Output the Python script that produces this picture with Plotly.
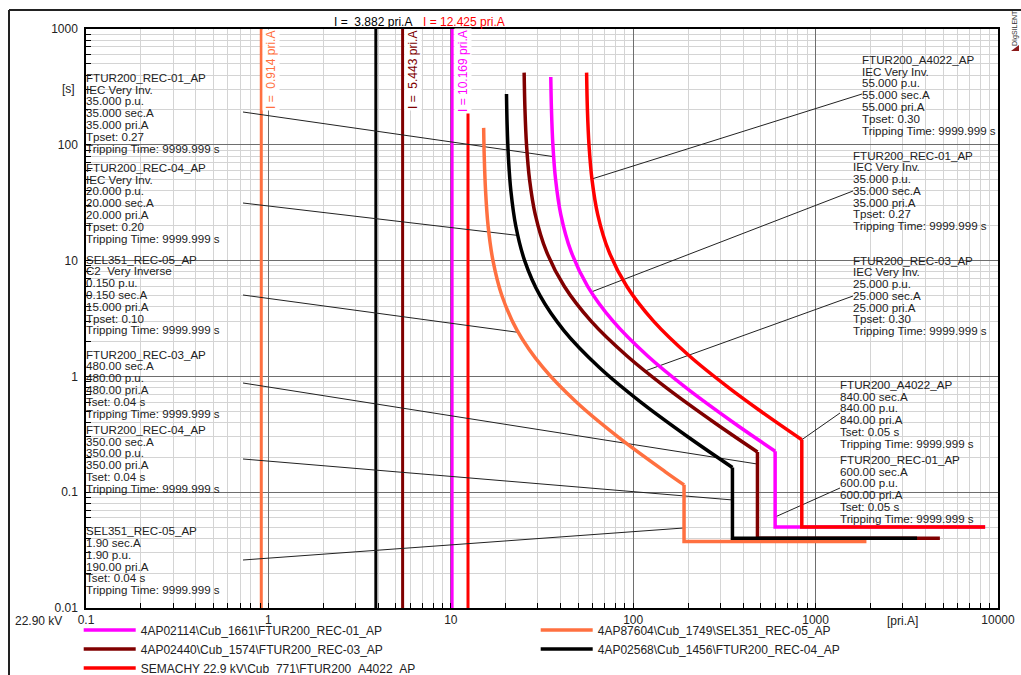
import plotly.graph_objects as go

FONT = "Liberation Sans, Arial, sans-serif"
W, H = 1021, 675
ML, MR, MT, MB = 86, 23, 29, 67
PW, PH = W - ML - MR, H - MT - MB

MAGENTA, CORAL, DARKRED, BLACK, RED = "#FF00FF", "#FF7040", "#800000", "#000000", "#FF0000"

# ---------------- data ----------------
X_TICKS = [0.1, 1, 10, 100, 1000, 10000]
X_TICKTEXT = ["0.1", "1", "10", "100", "1000", "10000"]
Y_TICKS = [0.01, 0.1, 1, 10, 100, 1000]
Y_TICKTEXT = ["0.01", "0.1", "1", "10", "100", "1000"]

# fault-current marker lines [pri.A]
I_LINES = [0.914, 3.882, 5.443, 10.169, 12.425]
I_LINE_COLORS = [CORAL, BLACK, DARKRED, MAGENTA, RED]

# inverse-time parts (current [pri.A], time [s])
REC01_I = [35.33, 35.64, 36.28, 37.55, 40.10, 45.63, 56.26, 77.53, 120.05, 194.5, 353.9, 600]
REC01_T = [385, 200, 100, 50, 25, 12, 6, 3, 1.5, 0.8, 0.4, 0.2258]
REC01_DT_I = [600, 600, 8500]
REC01_DT_T = [0.2258, 0.05, 0.05]

SEL05_I = [15.14, 15.25, 15.51, 16.01, 17.03, 19.05, 23.1, 31.9, 48.75, 82.5, 150, 190]
SEL05_T = [140, 80, 40, 20, 10, 5, 2.5, 1.2, 0.6, 0.3, 0.15, 0.1157]
SEL05_DT_I = [190, 190, 1900]
SEL05_DT_T = [0.1157, 0.0375, 0.0375]

REC03_I = [25.24, 25.51, 26.01, 27.03, 29.05, 33.44, 41.88, 58.75, 92.5, 151.6, 278.1, 480]
REC03_T = [420, 200, 100, 50, 25, 12, 6, 3, 1.5, 0.8, 0.4, 0.2225]
REC03_DT_I = [480, 480, 4800]
REC03_DT_T = [0.2225, 0.04, 0.04]

REC04_I = [20.20, 20.36, 20.72, 21.35, 22.70, 25.4, 30.8, 41.6, 65.0, 110, 200, 350]
REC04_T = [275, 150, 75, 40, 20, 10, 5, 2.5, 1.2, 0.6, 0.3, 0.1636]
REC04_DT_I = [350, 350, 3600]
REC04_DT_T = [0.1636, 0.04, 0.04]

A4022_I = [55.53, 56.11, 57.23, 59.46, 63.91, 73.56, 92.13, 129.25, 203.5, 333.4, 500.5, 840]
A4022_T = [420, 200, 100, 50, 25, 12, 6, 3, 1.5, 0.8, 0.5, 0.2838]
A4022_DT_I = [840, 840, 8500]
A4022_DT_T = [0.2838, 0.05, 0.05]

SERIES_NAMES = [
    r"4AP02114\Cub_1661\FTUR200_REC-01_AP",
    r"4AP87604\Cub_1749\SEL351_REC-05_AP",
    r"4AP02440\Cub_1574\FTUR200_REC-03_AP",
    r"4AP02568\Cub_1456\FTUR200_REC-04_AP",
    r"SEMACHY 22.9 kV\Cub_771\FTUR200_A4022_AP",
]

# label text blocks
LB1 = ["FTUR200_REC-01_AP", "IEC Very Inv.", "35.000 p.u.", "35.000 sec.A", "35.000 pri.A", "Tpset: 0.27", "Tripping Time: 9999.999 s"]
LB2 = ["FTUR200_REC-04_AP", "IEC Very Inv.", "20.000 p.u.", "20.000 sec.A", "20.000 pri.A", "Tpset: 0.20", "Tripping Time: 9999.999 s"]
LB3 = ["SEL351_REC-05_AP", "C2  Very Inverse", "0.150 p.u.", "0.150 sec.A", "15.000 pri.A", "Tpset: 0.10", "Tripping Time: 9999.999 s"]
LB4 = ["FTUR200_REC-03_AP", "480.00 sec.A", "480.00 p.u.", "480.00 pri.A", "Tset: 0.04 s", "Tripping Time: 9999.999 s"]
LB5 = ["FTUR200_REC-04_AP", "350.00 sec.A", "350.00 p.u.", "350.00 pri.A", "Tset: 0.04 s", "Tripping Time: 9999.999 s"]
LB6 = ["SEL351_REC-05_AP", "1.90 sec.A", "1.90 p.u.", "190.00 pri.A", "Tset: 0.04 s", "Tripping Time: 9999.999 s"]
RB1 = ["FTUR200_A4022_AP", "IEC Very Inv.", "55.000 p.u.", "55.000 sec.A", "55.000 pri.A", "Tpset: 0.30", "Tripping Time: 9999.999 s"]
RB2 = ["FTUR200_REC-01_AP", "IEC Very Inv.", "35.000 p.u.", "35.000 sec.A", "35.000 pri.A", "Tpset: 0.27", "Tripping Time: 9999.999 s"]
RB3 = ["FTUR200_REC-03_AP", "IEC Very Inv.", "25.000 p.u.", "25.000 sec.A", "25.000 pri.A", "Tpset: 0.30", "Tripping Time: 9999.999 s"]
RB4 = ["FTUR200_A4022_AP", "840.00 sec.A", "840.00 p.u.", "840.00 pri.A", "Tset: 0.05 s", "Tripping Time: 9999.999 s"]
RB5 = ["FTUR200_REC-01_AP", "600.00 sec.A", "600.00 p.u.", "600.00 pri.A", "Tset: 0.05 s", "Tripping Time: 9999.999 s"]

# leader targets on the curves (current, time)
LEADER_I = [36.61, 23.27, 23.44, 480, 350, 190, 59.39, 58.82, 115.97, 840, 600]
LEADER_T = [79, 16.5, 2.4, 0.175, 0.0857, 0.0491, 50.7, 5.356, 1.113, 0.2838, 0.0611]

# ---------------- layout helpers ----------------
def px(xp):
    return (xp - ML) / PW


def py(yp):
    return (H - MB - yp) / PH


def x_at(xp):
    return 10 ** ((xp - ML) / PW * 5 - 1)


def y_at(yp):
    return 10 ** (3 - (yp - MT) / PH * 5)


fig = go.Figure()

# vertical current lines
for v, c in zip(I_LINES, I_LINE_COLORS):
    fig.add_trace(go.Scatter(x=[v, v], y=[Y_TICKS[0], Y_TICKS[-1]], mode="lines",
                             line=dict(color=c, width=3), showlegend=False, hoverinfo="skip"))

# leader lines: (box anchor px, py)
LEADER_ANCHORS = [(243, 112), (243, 203), (243, 295), (243, 383), (243, 459), (243, 560),
                  (862, 94), (853, 191), (853, 296), (840, 413), (840, 488)]
for (ax, ay), li, lt in zip(LEADER_ANCHORS, LEADER_I, LEADER_T):
    fig.add_trace(go.Scatter(x=[x_at(ax), li], y=[y_at(ay), lt], mode="lines",
                             line=dict(color="#222222", width=1), showlegend=False, hoverinfo="skip"))

curves = [
    (REC01_I, REC01_T, REC01_DT_I, REC01_DT_T, MAGENTA),
    (SEL05_I, SEL05_T, SEL05_DT_I, SEL05_DT_T, CORAL),
    (REC03_I, REC03_T, REC03_DT_I, REC03_DT_T, DARKRED),
    (REC04_I, REC04_T, REC04_DT_I, REC04_DT_T, BLACK),
    (A4022_I, A4022_T, A4022_DT_I, A4022_DT_T, RED),
]
for name, (ci, ct, di, dt, col) in zip(SERIES_NAMES, curves):
    fig.add_trace(go.Scatter(x=ci, y=ct, mode="lines", name=name, legendgroup=name,
                             line=dict(color=col, width=3.5, shape="spline"), hoverinfo="skip"))
    fig.add_trace(go.Scatter(x=di, y=dt, mode="lines", name=name, legendgroup=name, showlegend=False,
                             line=dict(color=col, width=3.5), hoverinfo="skip"))

shapes = []
annotations = []
TXT = "#222222"


def add_text(text, xp, yp, color=TXT, size=12, xanchor="center", yanchor="middle", **kw):
    d = dict(text=text, xref="paper", yref="paper", x=px(xp), y=py(yp), showarrow=False,
             xanchor=xanchor, yanchor=yanchor,
             font=dict(family=FONT, size=size, color=color))
    d.update(kw)
    annotations.append(d)


def add_box(lines, xp, y0, right, spacing=11.8):
    shapes.append(dict(type="rect", xref="paper", yref="paper", layer="between",
                       x0=px(xp - 1), x1=px(right), y0=py(y0 - 7), y1=py(y0 + spacing * (len(lines) - 1) + 6),
                       fillcolor="white", line=dict(width=0)))
    for k, s in enumerate(lines):
        add_text(s, xp - 2, y0 + spacing * k, size=11.6, xanchor="left")


add_box(LB1, 86, 77.3, 243)
add_box(LB2, 86, 167.3, 243)
add_box(LB3, 86, 259, 243)
add_box(LB4, 86, 354, 243)
add_box(LB5, 86, 429.3, 243)
add_box(LB6, 86, 530.7, 243)
add_box(RB1, 862, 59.3, 993)
add_box(RB2, 853, 155, 991)
add_box(RB3, 853, 260, 991)
add_box(RB4, 840, 384.3, 991)
add_box(RB5, 840, 459.3, 991)

# current labels
add_text("I =  0.914 pri.A", 271, 70, color=CORAL, textangle=-90, bgcolor="white")
add_text("I =  5.443 pri.A", 413, 70, color=DARKRED, textangle=-90, bgcolor="white")
add_text("I = 10.169 pri.A", 463, 71, color=MAGENTA, textangle=-90, bgcolor="white")
add_text("I =  3.882 pri.A", 373, 22, color=BLACK)
add_text("I = 12.425 pri.A", 464, 22, color=RED)

# axis side texts
add_text("[s]", 68, 89)
add_text("22.90 kV", 38, 621)
add_text("[pri.A]", 902, 621)
add_text("DIgSILENT", 1015, 28, color="#333333", size=7, textangle=-90)

# outer frame (top and left edges)
shapes.append(dict(type="line", xref="paper", yref="paper", x0=px(9), x1=px(1021), y0=py(10), y1=py(10),
                   line=dict(color="#222222", width=2)))
shapes.append(dict(type="line", xref="paper", yref="paper", x0=px(9), x1=px(9), y0=py(10), y1=py(676),
                   line=dict(color="#222222", width=2)))
shapes.append(dict(type="path", xref="paper", yref="paper",
                   path=f"M {px(1011)},{py(51)} L {px(1019)},{py(51)} L {px(1019)},{py(45)} Z",
                   fillcolor="#8B1A1A", line=dict(width=0)))

X_MINOR = [k * 10 ** e for e in range(-1, 4) for k in range(2, 10)]
Y_MINOR = [k * 10 ** e for e in range(-2, 3) for k in range(2, 10)]

axis_common = dict(type="log", showgrid=True, gridcolor="#6e6e6e", gridwidth=1,
                   ticks="inside", ticklen=5, tickcolor="black", showline=True, linecolor="black",
                   linewidth=1.5, mirror=True, zeroline=False,
                   tickfont=dict(family=FONT, size=12, color=TXT))

fig.update_layout(
    width=W, height=H,
    margin=dict(l=ML, r=MR, t=MT, b=MB, autoexpand=False),
    paper_bgcolor="white", plot_bgcolor="white",
    font=dict(family=FONT, size=12, color=TXT),
    hovermode=False,
    xaxis=dict(range=[-1, 4], tickmode="array", tickvals=X_TICKS, ticktext=X_TICKTEXT,
               minor=dict(tickmode="array", tickvals=X_MINOR, ticks="inside", ticklen=5, tickcolor="black",
                          showgrid=True, gridcolor="#d4d4d4", gridwidth=1),
               **axis_common),
    yaxis=dict(range=[-2, 3], tickmode="array", tickvals=Y_TICKS, ticktext=Y_TICKTEXT,
               ticklabelstandoff=4,
               minor=dict(tickmode="array", tickvals=Y_MINOR, ticks="inside", ticklen=5, tickcolor="black",
                          showgrid=True, gridcolor="#d4d4d4", gridwidth=1),
               **axis_common),
    legend=dict(orientation="h", x=-0.008, xanchor="left", y=-0.0128, yanchor="top",
                entrywidth=390, entrywidthmode="pixels", itemwidth=52,
                font=dict(family=FONT, size=12, color=TXT), bgcolor="rgba(0,0,0,0)",
                traceorder="normal"),
    shapes=shapes,
    annotations=annotations,
)

fig.write_html("out.html", config={"displayModeBar": False},
               post_script="document.body.style.margin='0px';document.body.style.overflow='hidden';")
